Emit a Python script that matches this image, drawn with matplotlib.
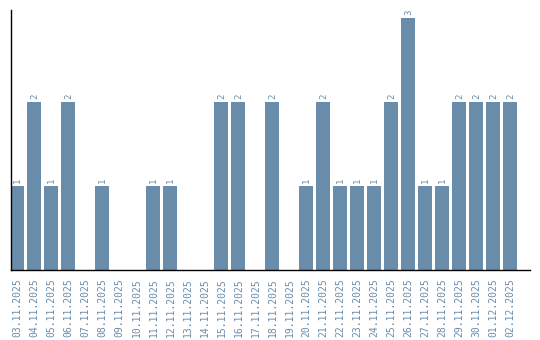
import matplotlib.pyplot as plt
import numpy as np

dates = ['03.11.2025', '04.11.2025', '05.11.2025', '06.11.2025', '07.11.2025',
         '08.11.2025', '09.11.2025', '10.11.2025', '11.11.2025', '12.11.2025',
         '13.11.2025', '14.11.2025', '15.11.2025', '16.11.2025', '17.11.2025',
         '18.11.2025', '19.11.2025', '20.11.2025', '21.11.2025', '22.11.2025',
         '23.11.2025', '24.11.2025', '25.11.2025', '26.11.2025', '27.11.2025',
         '28.11.2025', '29.11.2025', '30.11.2025', '01.12.2025', '02.12.2025']
counts = [1, 2, 1, 2, 0, 1, 0, 0, 1, 1, 0, 0, 2, 2, 0,
          2, 0, 1, 2, 1, 1, 1, 2, 3, 1, 1, 2, 2, 2, 2]

color = '#6a8cab'

fig = plt.figure(figsize=(5.4, 3.4), dpi=100)
ax = fig.add_axes([10.5 / 540, 70 / 340, 519.5 / 540, 260 / 340])

x = np.arange(len(dates))
bars = ax.bar(x, counts, width=0.82, color=color)
for xi, c in zip(x, counts):
    if c > 0:
        ax.text(xi, c + 0.03, str(c), rotation=90, ha='center', va='bottom',
                fontsize=6.5, color=color, family='DejaVu Sans Mono')

ax.set_xlim(-0.41, 30.15)
ax.set_ylim(0, 3.095)
ax.set_xticks(x)
ax.set_xticklabels(dates, rotation=90, fontsize=7, color=color,
                   family='DejaVu Sans Mono')
ax.tick_params(axis='x', length=0, pad=6)
ax.set_yticks([])
ax.spines['top'].set_visible(False)
ax.spines['right'].set_visible(False)
ax.spines['left'].set_linewidth(1)
ax.spines['bottom'].set_linewidth(1)

plt.savefig('out.png', dpi=100)
